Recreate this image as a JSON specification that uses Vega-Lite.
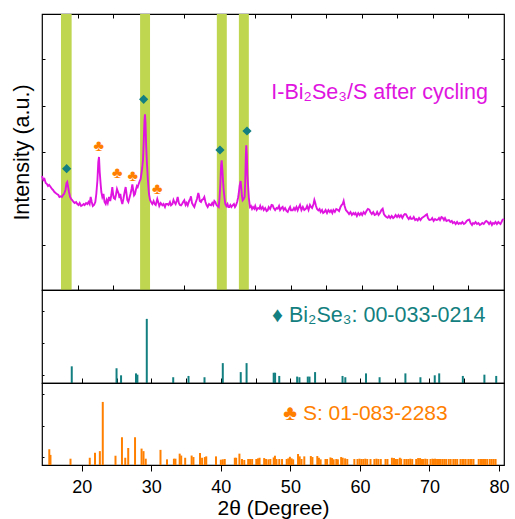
{
"$schema": "https://vega.github.io/schema/vega-lite/v6.json",
"padding": {"left": 10, "top": 12, "right": 12, "bottom": 0},
"spacing": 0,
"bounds": "flush",
"config": {
  "font": "Liberation Sans",
  "view": {"stroke": "#000000", "strokeWidth": 1.2},
  "axis": {"grid": false, "domain": false, "tickColor": "#000000", "labelColor": "#000000", "titleColor": "#000000", "titleFontWeight": "normal"}
},
"datasets": {
  "xrd": [
{"t":15.0,"i":114},{"t":15.05,"i":113},{"t":15.2,"i":110},{"t":15.35,"i":111},{"t":15.52,"i":107},{"t":15.7,"i":106},{"t":15.85,"i":104},{"t":16.0,"i":105},{"t":16.22,"i":103},{"t":16.4,"i":101},{"t":16.55,"i":100},{"t":16.75,"i":98},{"t":16.92,"i":97},{"t":17.1,"i":96},{"t":17.3,"i":95},{"t":17.45,"i":93},{"t":17.63,"i":93.7},{"t":17.8,"i":93},{"t":17.95,"i":95},{"t":18.1,"i":96},{"t":18.3,"i":100},{"t":18.45,"i":107},{"t":18.55,"i":108},{"t":18.7,"i":102},{"t":18.8,"i":98},{"t":18.95,"i":93},{"t":19.1,"i":91},{"t":19.27,"i":89.7},{"t":19.45,"i":88},{"t":19.6,"i":87},{"t":19.8,"i":88},{"t":19.97,"i":86},{"t":20.15,"i":85},{"t":20.3,"i":87},{"t":20.5,"i":84},{"t":20.67,"i":84.7},{"t":20.85,"i":86},{"t":21.0,"i":85},{"t":21.2,"i":87},{"t":21.38,"i":86},{"t":21.55,"i":88},{"t":21.7,"i":86},{"t":21.85,"i":93},{"t":22.0,"i":88},{"t":22.15,"i":84},{"t":22.32,"i":85},{"t":22.5,"i":88},{"t":22.64,"i":96},{"t":22.8,"i":110},{"t":22.92,"i":128},{"t":23.02,"i":133},{"t":23.12,"i":118},{"t":23.25,"i":106},{"t":23.35,"i":98},{"t":23.49,"i":93},{"t":23.65,"i":96},{"t":23.8,"i":88},{"t":23.96,"i":86},{"t":24.1,"i":90},{"t":24.25,"i":87},{"t":24.43,"i":93},{"t":24.6,"i":89},{"t":24.75,"i":95},{"t":24.89,"i":103},{"t":25.0,"i":96},{"t":25.1,"i":92},{"t":25.27,"i":91},{"t":25.4,"i":95},{"t":25.55,"i":101},{"t":25.65,"i":99},{"t":25.8,"i":96},{"t":25.9,"i":92},{"t":26.02,"i":96},{"t":26.15,"i":90},{"t":26.3,"i":86},{"t":26.45,"i":91},{"t":26.6,"i":97},{"t":26.77,"i":103},{"t":26.9,"i":96},{"t":27.0,"i":90},{"t":27.15,"i":88},{"t":27.3,"i":92},{"t":27.45,"i":96},{"t":27.6,"i":101},{"t":27.71,"i":105.7},{"t":27.85,"i":99},{"t":27.95,"i":94.7},{"t":28.08,"i":96},{"t":28.2,"i":100},{"t":28.35,"i":104},{"t":28.46,"i":103},{"t":28.6,"i":106},{"t":28.75,"i":109},{"t":28.88,"i":111},{"t":29.0,"i":117},{"t":29.1,"i":122},{"t":29.21,"i":130},{"t":29.32,"i":150},{"t":29.42,"i":170},{"t":29.49,"i":175.7},{"t":29.56,"i":168},{"t":29.65,"i":145},{"t":29.77,"i":126},{"t":29.9,"i":110},{"t":30.05,"i":96},{"t":30.2,"i":90},{"t":30.35,"i":88},{"t":30.52,"i":86},{"t":30.7,"i":89},{"t":30.85,"i":86},{"t":31.0,"i":85},{"t":31.22,"i":91},{"t":31.35,"i":88},{"t":31.5,"i":84},{"t":31.7,"i":87},{"t":31.93,"i":84.7},{"t":32.1,"i":86},{"t":32.3,"i":83},{"t":32.45,"i":86},{"t":32.63,"i":86},{"t":32.8,"i":85},{"t":33.0,"i":88},{"t":33.15,"i":84.7},{"t":33.35,"i":86},{"t":33.5,"i":90},{"t":33.62,"i":88},{"t":33.8,"i":86},{"t":33.95,"i":89},{"t":34.09,"i":93},{"t":34.25,"i":87},{"t":34.4,"i":85},{"t":34.56,"i":84.7},{"t":34.7,"i":86},{"t":34.85,"i":88},{"t":35.02,"i":89.7},{"t":35.2,"i":85},{"t":35.35,"i":87},{"t":35.5,"i":84.7},{"t":35.7,"i":89},{"t":35.85,"i":91},{"t":35.96,"i":93.7},{"t":36.1,"i":87},{"t":36.25,"i":85},{"t":36.43,"i":83},{"t":36.6,"i":87},{"t":36.8,"i":91},{"t":36.99,"i":97},{"t":37.1,"i":94},{"t":37.2,"i":89},{"t":37.37,"i":88},{"t":37.5,"i":90},{"t":37.7,"i":91},{"t":37.84,"i":93},{"t":38.0,"i":88},{"t":38.15,"i":85},{"t":38.31,"i":83},{"t":38.5,"i":86},{"t":38.65,"i":85},{"t":38.78,"i":84.7},{"t":38.95,"i":87},{"t":39.1,"i":85},{"t":39.25,"i":89},{"t":39.38,"i":88},{"t":39.55,"i":85},{"t":39.7,"i":84},{"t":39.86,"i":83},{"t":39.98,"i":92},{"t":40.09,"i":106},{"t":40.2,"i":125},{"t":40.28,"i":129.7},{"t":40.38,"i":120},{"t":40.48,"i":108},{"t":40.56,"i":100},{"t":40.68,"i":92},{"t":40.79,"i":86},{"t":40.95,"i":84},{"t":41.1,"i":86},{"t":41.22,"i":83},{"t":41.35,"i":83},{"t":41.5,"i":85},{"t":41.65,"i":83},{"t":41.82,"i":84.7},{"t":42.0,"i":86},{"t":42.15,"i":83},{"t":42.29,"i":84.7},{"t":42.45,"i":88},{"t":42.58,"i":92},{"t":42.67,"i":96},{"t":42.8,"i":104},{"t":42.95,"i":109},{"t":43.05,"i":101},{"t":43.13,"i":94},{"t":43.23,"i":89.7},{"t":43.38,"i":91},{"t":43.51,"i":93},{"t":43.6,"i":110},{"t":43.68,"i":135},{"t":43.74,"i":144.7},{"t":43.82,"i":135},{"t":43.9,"i":115},{"t":43.98,"i":106},{"t":44.1,"i":92},{"t":44.26,"i":83},{"t":44.4,"i":84},{"t":44.55,"i":81},{"t":44.7,"i":83},{"t":44.87,"i":81.3},{"t":45.0,"i":84},{"t":45.2,"i":80},{"t":45.4,"i":82},{"t":45.57,"i":81.3},{"t":45.7,"i":84},{"t":45.85,"i":81},{"t":46.05,"i":83},{"t":46.2,"i":80},{"t":46.4,"i":82},{"t":46.6,"i":79},{"t":46.75,"i":79.7},{"t":46.9,"i":83},{"t":47.1,"i":81},{"t":47.3,"i":85},{"t":47.46,"i":84.7},{"t":47.6,"i":82},{"t":47.8,"i":80},{"t":48.0,"i":82},{"t":48.16,"i":81.3},{"t":48.35,"i":84},{"t":48.5,"i":80},{"t":48.7,"i":82},{"t":48.86,"i":83},{"t":49.0,"i":80},{"t":49.2,"i":82},{"t":49.4,"i":79},{"t":49.57,"i":78},{"t":49.75,"i":81},{"t":49.9,"i":83},{"t":50.03,"i":79.7},{"t":50.27,"i":79.7},{"t":50.45,"i":82},{"t":50.6,"i":80},{"t":50.8,"i":83},{"t":50.97,"i":79.7},{"t":51.1,"i":82},{"t":51.3,"i":85},{"t":51.5,"i":80},{"t":51.7,"i":83},{"t":51.9,"i":80},{"t":52.14,"i":81.3},{"t":52.3,"i":84},{"t":52.5,"i":80},{"t":52.7,"i":85},{"t":52.85,"i":83},{"t":53.0,"i":82},{"t":53.2,"i":86},{"t":53.32,"i":90},{"t":53.41,"i":88},{"t":53.55,"i":84},{"t":53.7,"i":81},{"t":53.88,"i":79.7},{"t":54.05,"i":81},{"t":54.2,"i":78},{"t":54.4,"i":80},{"t":54.55,"i":77},{"t":54.72,"i":78},{"t":54.9,"i":80},{"t":55.1,"i":77},{"t":55.3,"i":80},{"t":55.5,"i":78},{"t":55.66,"i":79.7},{"t":55.85,"i":77},{"t":56.0,"i":80},{"t":56.2,"i":78},{"t":56.4,"i":81},{"t":56.6,"i":80.3},{"t":56.8,"i":79},{"t":57.0,"i":83},{"t":57.15,"i":85},{"t":57.3,"i":86},{"t":57.44,"i":89},{"t":57.58,"i":84},{"t":57.75,"i":80},{"t":58.0,"i":78},{"t":58.2,"i":76},{"t":58.4,"i":78},{"t":58.6,"i":75},{"t":58.8,"i":77},{"t":58.94,"i":75.7},{"t":59.1,"i":77},{"t":59.3,"i":74},{"t":59.5,"i":77},{"t":59.7,"i":75},{"t":59.88,"i":77},{"t":60.05,"i":75},{"t":60.25,"i":78},{"t":60.45,"i":76},{"t":60.65,"i":79},{"t":60.85,"i":81},{"t":61.05,"i":80.3},{"t":61.2,"i":78},{"t":61.4,"i":76},{"t":61.6,"i":78},{"t":61.8,"i":75},{"t":61.99,"i":75.7},{"t":62.15,"i":78},{"t":62.35,"i":75},{"t":62.55,"i":77},{"t":62.75,"i":80},{"t":62.93,"i":81.3},{"t":63.1,"i":76},{"t":63.3,"i":74},{"t":63.45,"i":73},{"t":63.63,"i":72.3},{"t":63.8,"i":74},{"t":64.0,"i":72},{"t":64.2,"i":74},{"t":64.4,"i":72},{"t":64.57,"i":73},{"t":64.75,"i":75},{"t":64.95,"i":73},{"t":65.15,"i":75},{"t":65.3,"i":73},{"t":65.5,"i":74.7},{"t":65.7,"i":72},{"t":65.9,"i":75},{"t":66.05,"i":76},{"t":66.21,"i":75.7},{"t":66.4,"i":73},{"t":66.6,"i":71},{"t":66.8,"i":73},{"t":66.95,"i":71},{"t":67.15,"i":71.3},{"t":67.3,"i":73},{"t":67.5,"i":70},{"t":67.7,"i":71},{"t":67.86,"i":69.7},{"t":68.05,"i":72},{"t":68.25,"i":70},{"t":68.45,"i":72},{"t":68.65,"i":73},{"t":68.85,"i":74},{"t":69.0,"i":75},{"t":69.16,"i":75.7},{"t":69.3,"i":72},{"t":69.5,"i":70},{"t":69.73,"i":70.3},{"t":69.9,"i":72},{"t":70.1,"i":69},{"t":70.3,"i":71},{"t":70.5,"i":70},{"t":70.67,"i":70.3},{"t":70.85,"i":72},{"t":71.0,"i":70},{"t":71.2,"i":73},{"t":71.37,"i":72.3},{"t":71.55,"i":70},{"t":71.7,"i":72},{"t":71.9,"i":69},{"t":72.08,"i":69.7},{"t":72.25,"i":70},{"t":72.45,"i":68},{"t":72.65,"i":69},{"t":72.8,"i":67},{"t":73.0,"i":68},{"t":73.2,"i":66},{"t":73.4,"i":68},{"t":73.6,"i":66},{"t":73.8,"i":67},{"t":73.95,"i":66.3},{"t":74.15,"i":68},{"t":74.35,"i":66},{"t":74.55,"i":67},{"t":74.75,"i":69},{"t":74.95,"i":70},{"t":75.12,"i":70.3},{"t":75.3,"i":67},{"t":75.5,"i":65},{"t":75.65,"i":67},{"t":75.82,"i":66.3},{"t":76.0,"i":68},{"t":76.2,"i":66},{"t":76.4,"i":67},{"t":76.6,"i":65},{"t":76.76,"i":65.7},{"t":76.95,"i":67},{"t":77.15,"i":66},{"t":77.35,"i":68},{"t":77.5,"i":69},{"t":77.7,"i":68},{"t":77.9,"i":66},{"t":78.1,"i":68},{"t":78.3,"i":65},{"t":78.45,"i":67},{"t":78.63,"i":66.3},{"t":78.8,"i":68},{"t":79.0,"i":66},{"t":79.2,"i":68},{"t":79.34,"i":67},{"t":79.5,"i":66},{"t":79.65,"i":68},{"t":79.81,"i":70.3},{"t":80.0,"i":71}
  ],
  "bands": [{"t1":17.67,"t2":19.17},{"t1":28.8,"t2":30.2},{"t1":39.6,"t2":41.0},{"t1":42.7,"t2":44.1}],
  "dia": [{"t":18.47,"i":121.3},{"t":29.3,"i":190.7},{"t":40.04,"i":140},{"t":43.84,"i":159}],
  "club": [{"t":22.97,"i":143.7},{"t":25.6,"i":117.3},{"t":27.76,"i":114},{"t":31.2,"i":101.3}],
  "labels": [{"panel":"top","t":62.5,"i":191,"label":"I-Bi₂Se₃/S after cycling"},{"panel":"mid","t":62.7,"i":95,"label":"♦ Bi₂Se₃: 00-033-0214"},{"panel":"bot","t":60.8,"i":71.8,"label":"♣ S: 01-083-2283"}],
  "bise": [
{"t":18.56,"i":26},{"t":25.0,"i":23},{"t":25.65,"i":12},{"t":27.8,"i":15},{"t":28.0,"i":13},{"t":29.35,"i":100},{"t":33.15,"i":9},{"t":35.35,"i":11},{"t":37.65,"i":9},{"t":40.28,"i":31},{"t":42.86,"i":17},{"t":43.7,"i":31},{"t":47.6,"i":16},{"t":47.8,"i":16},{"t":48.4,"i":11},{"t":50.97,"i":10},{"t":51.3,"i":9},{"t":52.5,"i":10},{"t":52.75,"i":10},{"t":53.55,"i":17},{"t":57.5,"i":11},{"t":57.9,"i":9},{"t":60.87,"i":15},{"t":62.83,"i":9},{"t":66.54,"i":15},{"t":68.7,"i":9},{"t":70.76,"i":12},{"t":71.4,"i":15},{"t":74.8,"i":11},{"t":77.9,"i":13},{"t":79.6,"i":11}
  ],
  "sul": [
{"t":15.33,"i":25},{"t":15.5,"i":16},{"t":18.38,"i":10},{"t":21.15,"i":11.5},{"t":21.9,"i":19.4},{"t":22.6,"i":22},{"t":23.02,"i":100},{"t":24.85,"i":14.7},{"t":25.78,"i":44},{"t":26.25,"i":11.5},{"t":26.68,"i":27},{"t":27.66,"i":44},{"t":28.6,"i":26},{"t":28.88,"i":22},{"t":29.2,"i":10},{"t":31.32,"i":24},{"t":32.26,"i":9},{"t":33.25,"i":10},{"t":33.47,"i":10},{"t":34.08,"i":18},{"t":34.3,"i":15},{"t":34.87,"i":11.5},{"t":35.8,"i":15},{"t":36.06,"i":12.6},{"t":37.0,"i":19},{"t":37.3,"i":11.5},{"t":37.7,"i":12.6},{"t":37.9,"i":13.7},{"t":39.3,"i":13.7},{"t":40.0,"i":8.4},{"t":40.28,"i":9},{"t":40.56,"i":9.5},{"t":42.01,"i":11.5},{"t":42.2,"i":11.5},{"t":42.67,"i":18},{"t":43.04,"i":9.5},{"t":43.37,"i":8},{"t":43.93,"i":9.5},{"t":44.2,"i":9.5},{"t":44.5,"i":9.5},{"t":45.1,"i":9.5},{"t":45.34,"i":10.5},{"t":45.57,"i":11.5},{"t":46.23,"i":11},{"t":46.5,"i":9.5},{"t":46.84,"i":9},{"t":47.12,"i":9.5},{"t":47.6,"i":12},{"t":47.78,"i":14.7},{"t":48.0,"i":9.5},{"t":48.4,"i":9.5},{"t":48.8,"i":9.5},{"t":49.47,"i":9.5},{"t":49.7,"i":10.5},{"t":49.93,"i":13},{"t":50.17,"i":10.5},{"t":50.4,"i":9},{"t":51.1,"i":17.4},{"t":51.34,"i":13.7},{"t":51.6,"i":9.5},{"t":52.0,"i":13.7},{"t":52.94,"i":14.2},{"t":53.17,"i":12.6},{"t":53.87,"i":14.2},{"t":54.1,"i":11.5},{"t":54.35,"i":9},{"t":55.05,"i":9.5},{"t":55.28,"i":9.5},{"t":55.76,"i":12},{"t":55.99,"i":11},{"t":56.22,"i":9},{"t":56.6,"i":9.5},{"t":56.83,"i":9},{"t":57.3,"i":12.6},{"t":57.53,"i":11.5},{"t":57.87,"i":10.5},
{"t":58.18,"i":9.5},{"t":59.2,"i":9.5},{"t":59.65,"i":9.5},{"t":59.93,"i":10},{"t":60.2,"i":9.5},{"t":60.48,"i":9.5},{"t":60.77,"i":10},{"t":61.05,"i":9.5},{"t":61.52,"i":9.5},{"t":62.08,"i":9.5},{"t":62.37,"i":10},{"t":62.65,"i":9.5},{"t":63.0,"i":9.5},{"t":63.68,"i":9.5},{"t":63.96,"i":9.5},{"t":64.6,"i":11.5},{"t":64.9,"i":11},{"t":65.18,"i":9.5},{"t":65.41,"i":9.5},{"t":65.74,"i":11.5},{"t":65.93,"i":10},{"t":66.4,"i":9.5},{"t":66.68,"i":9.5},{"t":66.96,"i":9.5},{"t":67.24,"i":10},{"t":67.52,"i":9.5},{"t":68.09,"i":9.5},{"t":68.37,"i":11},{"t":68.65,"i":11},{"t":68.93,"i":9.5},{"t":69.12,"i":9.5},{"t":69.4,"i":10},{"t":69.68,"i":9.5},{"t":70.15,"i":9.5},{"t":70.43,"i":10},{"t":70.62,"i":9.5},{"t":70.81,"i":10},{"t":71.09,"i":9.5},{"t":71.37,"i":9.5},{"t":71.55,"i":9.5},{"t":71.84,"i":9.5},{"t":72.12,"i":9.5},{"t":72.4,"i":9.5},{"t":72.77,"i":9.5},{"t":73.05,"i":9.5},{"t":73.43,"i":9.5},{"t":73.71,"i":9.5},{"t":73.99,"i":9.5},{"t":74.46,"i":9.5},{"t":74.74,"i":9.5},{"t":74.93,"i":9.5},{"t":75.21,"i":9.5},{"t":75.58,"i":9.5},{"t":75.87,"i":9.5},{"t":76.05,"i":9.5},{"t":76.33,"i":9.5},{"t":77.08,"i":9.5},{"t":77.36,"i":9.5},{"t":77.55,"i":9.5},{"t":77.83,"i":9.5},{"t":78.02,"i":9.5},{"t":78.3,"i":9.5},{"t":78.67,"i":9.5},{"t":78.95,"i":9.5},{"t":79.23,"i":9.5},{"t":79.51,"i":9.5}
  ]
},
"vconcat": [
  {
    "width": 462, "height": 276,
    "resolve": {"axis": {"x": "independent", "y": "independent"}},
    "layer": [
      {"data": {"name": "bands"}, "mark": {"type": "rect", "color": "#bfd650"},
       "encoding": {
         "x": {"field": "t1", "type": "quantitative", "scale": {"domain": [15, 80], "nice": false, "zero": false},
               "axis": {"orient": "bottom", "values": [20,25,30,35,40,45,50,55,60,65,70,75], "labels": false, "title": null, "tickSize": -5, "tickWidth": 1}},
         "x2": {"field": "t2"}
       }},
      {"data": {"name": "xrd"}, "mark": {"type": "line", "color": "#e014e0", "strokeWidth": 1.9},
       "encoding": {
         "x": {"field": "t", "type": "quantitative", "axis": {"orient": "top", "values": [20,25,30,35,40,45,50,55,60,65,70,75], "labels": false, "title": null, "tickSize": -4, "tickWidth": 1}},
         "y": {"field": "i", "type": "quantitative", "scale": {"domain": [0, 276], "nice": false, "zero": false},
               "axis": {"orient": "left", "title": "Intensity (a.u.)", "labels": false, "values": [45, 91, 138, 184, 231], "tickSize": -3, "titleFontSize": 21.5, "titlePadding": 8}}
       }},
      {"data": {"name": "dia"}, "mark": {"type": "point", "shape": "diamond", "filled": true, "color": "#137f80", "size": 85, "opacity": 1},
       "encoding": {"x": {"field": "t", "type": "quantitative", "axis": null},
                    "y": {"field": "i", "type": "quantitative", "axis": {"orient": "right", "labels": false, "title": null, "values": [45, 91, 138, 184, 231], "tickSize": -3}}}},
      {"data": {"name": "club"}, "mark": {"type": "text", "text": "♣", "color": "#ff8000", "fontSize": 16, "baseline": "middle", "align": "center"},
       "encoding": {"x": {"field": "t", "type": "quantitative", "axis": null}, "y": {"field": "i", "type": "quantitative", "axis": null}}},
      {"data": {"name": "labels"}, "transform": [{"filter": "datum.panel === 'top'"}],
       "mark": {"type": "text", "color": "#e014e0", "fontSize": 21.5, "align": "center", "baseline": "alphabetic"},
       "encoding": {"x": {"field": "t", "type": "quantitative", "axis": null}, "y": {"field": "i", "type": "quantitative", "axis": null}, "text": {"field": "label"}}}
    ]
  },
  {
    "width": 462, "height": 93,
    "layer": [
      {"data": {"name": "bise"}, "mark": {"type": "bar", "color": "#137f80", "width": 2},
       "encoding": {
         "x": {"field": "t", "type": "quantitative", "scale": {"domain": [15, 80], "nice": false, "zero": false},
               "axis": {"values": [20,25,30,35,40,45,50,55,60,65,70,75], "labels": false, "title": null, "tickSize": -5}},
         "y": {"field": "i", "type": "quantitative", "scale": {"domain": [0, 145], "nice": false}, "axis": {"labels": false, "title": null, "tickSize": -2, "values": [12.5,25,37.5,50,62.5,75,87.5,100,112.5,125,137.5]}}
       }},
      {"data": {"name": "labels"}, "transform": [{"filter": "datum.panel === 'mid'"}],
       "mark": {"type": "text", "color": "#137f80", "fontSize": 21.5, "align": "center", "baseline": "alphabetic"},
       "encoding": {"x": {"field": "t", "type": "quantitative"}, "y": {"field": "i", "type": "quantitative"}, "text": {"field": "label"}}}
    ]
  },
  {
    "width": 462, "height": 82,
    "layer": [
      {"data": {"name": "sul"}, "mark": {"type": "bar", "color": "#ff8000", "width": 2},
       "encoding": {
         "x": {"field": "t", "type": "quantitative", "scale": {"domain": [15, 80], "nice": false, "zero": false},
               "axis": {"values": [20,30,40,50,60,70,80], "title": "2θ (Degree)", "tickSize": 6, "labelFontSize": 18, "labelPadding": 7, "titleFontSize": 21, "titlePadding": 1, "labelFlush": false}},
         "y": {"field": "i", "type": "quantitative", "scale": {"domain": [0, 130], "nice": false}, "axis": {"labels": false, "title": null, "tickSize": -2, "values": [12.5,25,37.5,50,62.5,75,87.5,100,112.5,125]}}
       }},
      {"data": {"name": "labels"}, "transform": [{"filter": "datum.panel === 'bot'"}],
       "mark": {"type": "text", "color": "#ff8000", "fontSize": 21, "align": "center", "baseline": "alphabetic"},
       "encoding": {"x": {"field": "t", "type": "quantitative"}, "y": {"field": "i", "type": "quantitative"}, "text": {"field": "label"}}}
    ]
  }
]
}
